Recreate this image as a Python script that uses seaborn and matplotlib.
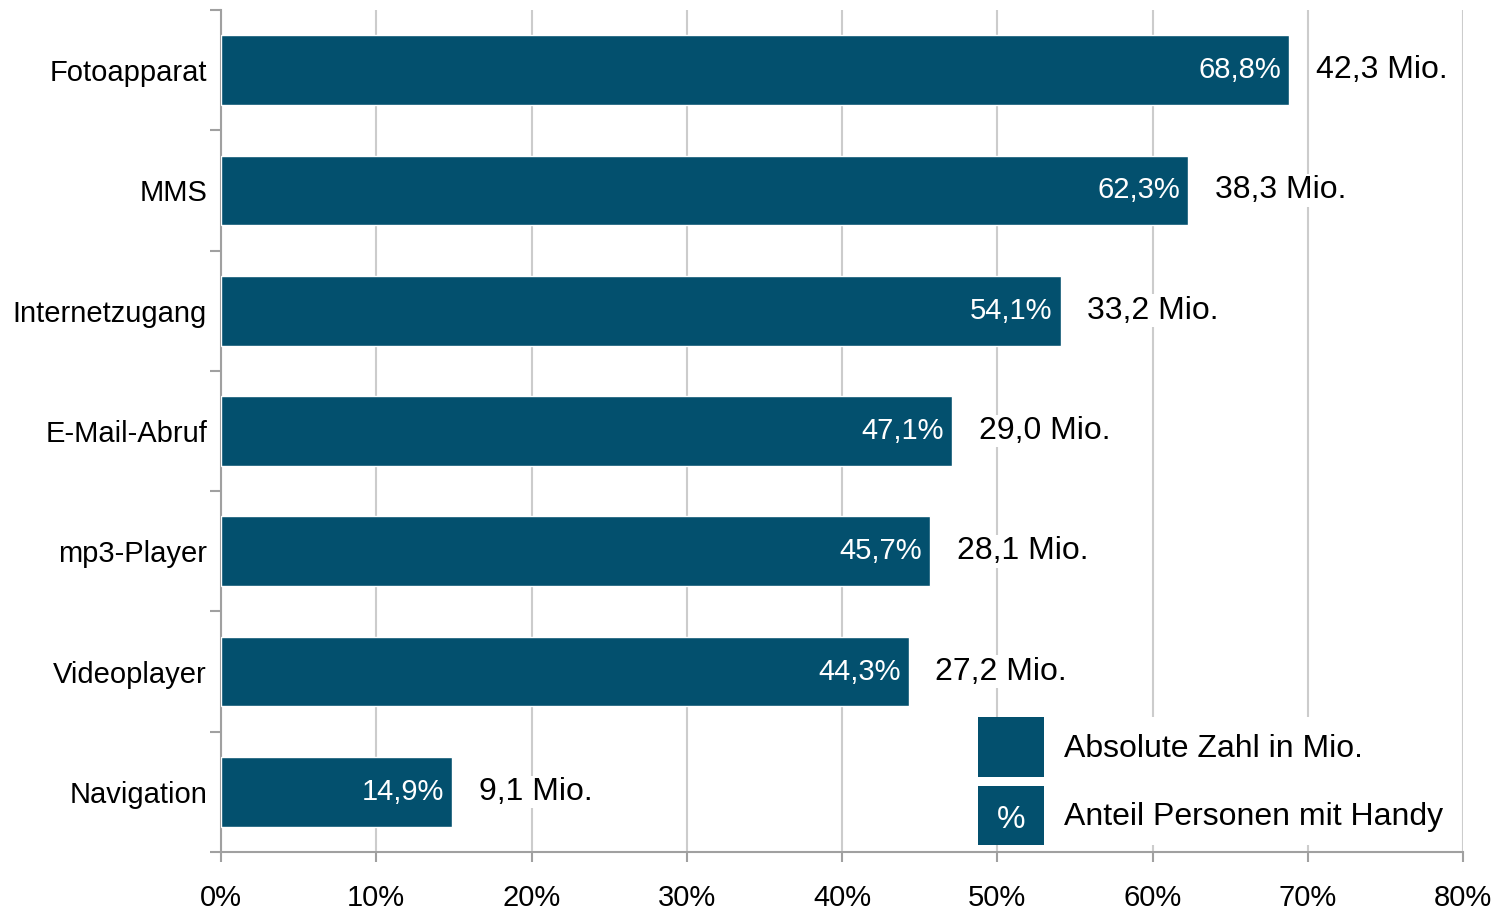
import matplotlib
matplotlib.use("Agg")
import matplotlib.pyplot as plt
import seaborn as sns
import pandas as pd
from matplotlib.patches import Patch, Rectangle
from matplotlib.text import Text
from matplotlib.legend_handler import HandlerBase
from matplotlib.ticker import FixedLocator, PercentFormatter

# data
categories = ["Fotoapparat", "MMS", "Internetzugang", "E-Mail-Abruf",
              "mp3-Player", "Videoplayer", "Navigation"]
share_pct = [68.8, 62.3, 54.1, 47.1, 45.7, 44.3, 14.9]
absolute_mio = [42.3, 38.3, 33.2, 29.0, 28.1, 27.2, 9.1]

bar_color = "#03506e"

sns.set_style("white")
plt.rcParams["font.family"] = ["Liberation Sans", "DejaVu Sans"]
plt.rcParams["text.color"] = "black"

df = pd.DataFrame({"Kategorie": categories, "Anteil": share_pct, "Mio": absolute_mio})

fig = plt.figure(figsize=(15.04, 9.10), dpi=100)
ax = fig.add_axes([221 / 1504, 58 / 910, 1242 / 1504, 842 / 910])

sns.barplot(data=df, x="Anteil", y="Kategorie", color=bar_color,
            saturation=1, width=0.58, ax=ax, zorder=3)

ax.set_xlim(0, 80)
ax.set_ylim(6.5, -0.5)
ax.set_xlabel("")
ax.set_ylabel("")
ax.set_xticks(range(0, 81, 10))
ax.xaxis.set_major_formatter(PercentFormatter(decimals=0))
ax.grid(axis="x", color="#cccccc", linewidth=1.5, zorder=0)
ax.set_axisbelow(True)

# category boundary ticks on the y axis
ax.yaxis.set_minor_locator(FixedLocator([i - 0.5 for i in range(len(categories) + 1)]))
ax.tick_params(axis="y", which="major", length=0, pad=10, labelsize=21, labelcolor="black")
ax.tick_params(axis="y", which="minor", left=True, length=8, width=1.5, color="#a0a0a0")
ax.tick_params(axis="x", which="major", bottom=True, length=7, width=1.5,
               color="#a0a0a0", pad=16, labelsize=21, labelcolor="black")

for side in ["top", "right"]:
    ax.spines[side].set_visible(False)
for side in ["left", "bottom"]:
    ax.spines[side].set_color("#a0a0a0")
    ax.spines[side].set_linewidth(1.5)

# value labels
for i, (p, m) in enumerate(zip(share_pct, absolute_mio)):
    pct_txt = f"{p:.1f}".replace(".", ",") + "%"
    mio_txt = f"{m:.1f}".replace(".", ",") + " Mio."
    ax.annotate(pct_txt, (p, i), xytext=(-6, 0),
                textcoords="offset points", ha="right", va="center",
                color="white", fontsize=21, zorder=5)
    ax.annotate(mio_txt, (p, i), xytext=(19, 0),
                textcoords="offset points", ha="left", va="center",
                color="black", fontsize=23, zorder=5,
                bbox=dict(facecolor="white", edgecolor="none", pad=1))


class PercentHandler(HandlerBase):
    def create_artists(self, legend, orig_handle, xdescent, ydescent,
                       width, height, fontsize, trans):
        r = Rectangle((-xdescent, -ydescent), width, height,
                      facecolor=bar_color, edgecolor="none", transform=trans)
        t = Text(-xdescent + width / 2, -ydescent + height * 0.42, "%",
                 color="white", ha="center", va="center",
                 fontsize=fontsize, transform=trans)
        return [r, t]


h_abs = Patch(facecolor=bar_color, edgecolor="none")
h_pct = Patch(facecolor=bar_color, edgecolor="none")
leg = ax.legend([h_abs, h_pct], ["Absolute Zahl in Mio.", "Anteil Personen mit Handy"],
                handler_map={h_pct: PercentHandler()},
                loc="lower right", bbox_to_anchor=(0.984, 0.008),
                fontsize=23, frameon=True, fancybox=False,
                handlelength=2.06, handleheight=2.5, labelspacing=0.27,
                handletextpad=0.63, borderpad=0.0, borderaxespad=0.0)
leg.get_frame().set_facecolor("white")
leg.get_frame().set_edgecolor("none")
leg.get_frame().set_alpha(1)
leg.set_zorder(6)
for t in leg.get_texts():
    t.set_color("black")

fig.savefig("out.png", dpi=100)
